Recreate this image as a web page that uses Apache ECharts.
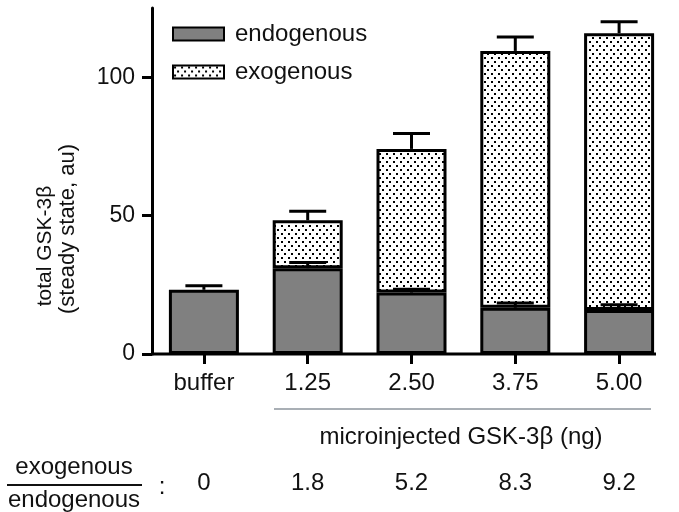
<!DOCTYPE html>
<html>
<head>
<meta charset="utf-8">
<script src="https://cdn.jsdelivr.net/npm/echarts@6/dist/echarts.min.js"></script>
<style>
  html, body { margin: 0; padding: 0; background: #fff; }
  #chart { width: 679px; height: 512px; }
</style>
</head>
<body>
<div id="chart"></div>
<script>
// Steady-state GSK-3β levels after microinjection
const categories = ['buffer', '1.25', '2.50', '3.75', '5.00'];
const endogenous = [23.2, 31.0, 22.2, 16.7, 15.9];
const exogenous = [null, 17.3, 51.9, 92.8, 100.0];
const endogenousErr = [1.5, 2.1, 1.2, 1.7, 1.9];
const totalErr = [null, 3.3, 5.6, 5.0, 4.1];
const ratios = ['0', '1.8', '5.2', '8.3', '9.2'];
const yTicks = [0, 50, 100];

const FONT = 'Liberation Sans';
const FS = 24;

// stipple fill for the exogenous fraction
function stipple() {
  const c = document.createElement('canvas');
  c.width = 7; c.height = 8;
  const g = c.getContext('2d');
  g.fillStyle = '#fff';
  g.fillRect(0, 0, 7, 8);
  g.fillStyle = '#000';
  g.fillRect(1, 1, 2, 2);
  g.fillRect(4, 5, 2, 2);
  return c;
}

// error bar rows: [category, bar top, upper error]
const errRows = [];
categories.forEach((c, i) => {
  errRows.push([c, endogenous[i], endogenousErr[i]]);
  if (exogenous[i] != null) {
    errRows.push([c, endogenous[i] + exogenous[i], totalErr[i]]);
  }
});

const chart = echarts.init(document.getElementById('chart'), null, { renderer: 'canvas' });

const GRID_LEFT = 152, GRID_TOP = 8, GRID_BOTTOM = 158;

chart.setOption({
  animation: false,
  textStyle: { fontFamily: FONT },
  grid: { left: GRID_LEFT, right: 8, top: GRID_TOP, bottom: GRID_BOTTOM, containLabel: false },
  legend: {
    left: 172, top: 22, padding: 0,
    orient: 'vertical',
    itemWidth: 51, itemHeight: 13, itemGap: 14,
    icon: 'rect',
    textStyle: { fontFamily: FONT, fontSize: FS, color: '#111', padding: [0, 0, 0, 6] },
    data: ['endogenous', 'exogenous']
  },
  xAxis: [
    {
      type: 'category', data: categories,
      axisLine: { show: false },
      axisTick: { show: true, alignWithLabel: true, length: 10, lineStyle: { color: '#000', width: 3 } },
      axisLabel: { margin: 17, fontFamily: FONT, fontSize: FS, color: '#111' }
    },
    {
      type: 'category', data: ratios,
      position: 'bottom', offset: 108,
      axisLine: { show: false },
      axisTick: { show: false },
      axisLabel: { margin: 9, fontFamily: FONT, fontSize: FS, color: '#111' }
    }
  ],
  yAxis: {
    type: 'value', min: 0, max: 125,
    splitLine: { show: false },
    axisLine: { show: true, onZero: false, lineStyle: { color: '#000', width: 3 } },
    axisTick: { show: true, customValues: yTicks, length: 10, lineStyle: { color: '#000', width: 3 } },
    axisLabel: { customValues: yTicks, margin: 17, fontFamily: FONT, fontSize: 23, color: '#111' }
  },
  series: [
    {
      name: 'endogenous', type: 'bar', stack: 'total', barWidth: 70,
      itemStyle: { color: '#808080', borderColor: '#000', borderWidth: 3 },
      data: endogenous
    },
    {
      name: 'exogenous', type: 'bar', stack: 'total', barWidth: 70,
      itemStyle: { color: { image: stipple(), repeat: 'repeat' }, borderColor: '#000', borderWidth: 3 },
      data: exogenous.map(v => (v == null ? '-' : v))
    },
    {
      name: 'error', type: 'custom', z: 5,
      data: errRows,
      renderItem: (params, api) => {
        const x = api.value(0), base = api.value(1), err = api.value(2);
        const p0 = api.coord([x, base]);
        const p1 = api.coord([x, base + err]);
        const half = 18.5;
        const st = { stroke: '#000', lineWidth: 3 };
        return {
          type: 'group',
          children: [
            { type: 'line', shape: { x1: p0[0], y1: p0[1], x2: p1[0], y2: p1[1] }, style: st },
            { type: 'line', shape: { x1: p1[0] - half, y1: p1[1], x2: p1[0] + half, y2: p1[1] }, style: st }
          ]
        };
      }
    }
  ],
  graphic: [
    // x baseline (stops short of the last band edge)
    { type: 'line', z: 10, shape: { x1: GRID_LEFT, y1: 512 - GRID_BOTTOM, x2: 656, y2: 512 - GRID_BOTTOM },
      style: { stroke: '#000', lineWidth: 3 } },
    { type: 'text', x: 45, y: 246, rotation: Math.PI / 2,
      style: { text: 'total GSK-3β', fontFamily: FONT, fontSize: 21, fill: '#111',
               align: 'center', verticalAlign: 'middle' } },
    { type: 'text', x: 68, y: 229, rotation: Math.PI / 2,
      style: { text: '(steady state, au)', fontFamily: FONT, fontSize: 22, fill: '#111',
               align: 'center', verticalAlign: 'middle' } },
    { type: 'line', shape: { x1: 274, y1: 409, x2: 651, y2: 409 }, style: { stroke: '#a9afb5', lineWidth: 2 } },
    { type: 'text', x: 461, y: 437,
      style: { text: 'microinjected GSK-3β (ng)', fontFamily: FONT, fontSize: FS, fill: '#111',
               align: 'center', verticalAlign: 'middle' } },
    { type: 'text', x: 74, y: 467,
      style: { text: 'exogenous', fontFamily: FONT, fontSize: FS, fill: '#111', align: 'center', verticalAlign: 'middle' } },
    { type: 'line', shape: { x1: 7, y1: 485, x2: 142, y2: 485 }, style: { stroke: '#111', lineWidth: 2 } },
    { type: 'text', x: 74, y: 500,
      style: { text: 'endogenous', fontFamily: FONT, fontSize: FS, fill: '#111', align: 'center', verticalAlign: 'middle' } },
    { type: 'text', x: 162, y: 487,
      style: { text: ':', fontFamily: FONT, fontSize: FS, fill: '#111', align: 'center', verticalAlign: 'middle' } }
  ]
});
</script>
</body>
</html>
